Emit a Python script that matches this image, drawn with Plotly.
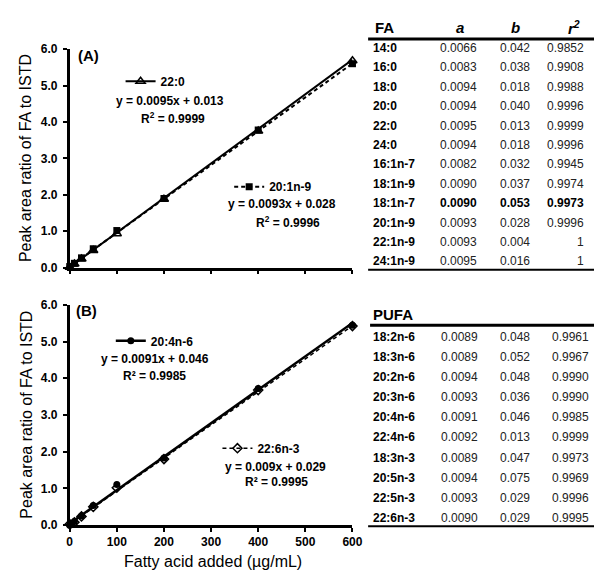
import plotly.graph_objects as go

W, H = 602, 574
FONT = "Arial, Liberation Sans, sans-serif"

# ---------------- data ----------------
conc = [0, 10, 25, 50, 100, 200, 400, 600]
fa_22_0 = [0.01, 0.10, 0.24, 0.47, 0.93, 1.88, 3.75, 5.68]
fa_20_1n9 = [0.03, 0.12, 0.27, 0.52, 1.02, 1.90, 3.78, 5.60]
fa_20_4n6 = [0.00, 0.10, 0.25, 0.54, 1.11, 1.83, 3.72, 5.44]
fa_22_6n3 = [0.03, 0.08, 0.24, 0.50, 1.02, 1.80, 3.68, 5.42]

# fitted lines shown in the chart (slope, intercept from the printed equations)
fit_22_0 = (0.0095, 0.013)
fit_20_1n9 = (0.0093, 0.028)
fit_20_4n6 = (0.0091, 0.046)
fit_22_6n3 = (0.009, 0.029)
fit_x = [0, 600]

x_ticks = [0, 100, 200, 300, 400, 500, 600]
y_ticks = [0, 1, 2, 3, 4, 5, 6]
y_tick_labels = ["0.0", "1.0", "2.0", "3.0", "4.0", "5.0", "6.0"]

sat_names = ["14:0", "16:0", "18:0", "20:0", "22:0", "24:0", "16:1n-7",
             "18:1n-9", "18:1n-7", "20:1n-9", "22:1n-9", "24:1n-9"]
sat_a = ["0.0066", "0.0083", "0.0094", "0.0094", "0.0095", "0.0094", "0.0082",
         "0.0090", "0.0090", "0.0093", "0.0093", "0.0095"]
sat_b = ["0.042", "0.038", "0.018", "0.040", "0.013", "0.018", "0.032",
         "0.037", "0.053", "0.028", "0.004", "0.016"]
sat_r2 = ["0.9852", "0.9908", "0.9988", "0.9996", "0.9999", "0.9996", "0.9945",
          "0.9974", "0.9973", "0.9996", "1", "1"]
sat_bold = "18:1n-7"

pufa_names = ["18:2n-6", "18:3n-6", "20:2n-6", "20:3n-6", "20:4n-6",
              "22:4n-6", "18:3n-3", "20:5n-3", "22:5n-3", "22:6n-3"]
pufa_a = ["0.0089", "0.0089", "0.0094", "0.0093", "0.0091", "0.0092",
          "0.0089", "0.0094", "0.0093", "0.0090"]
pufa_b = ["0.048", "0.052", "0.048", "0.036", "0.046", "0.013",
          "0.047", "0.075", "0.029", "0.029"]
pufa_r2 = ["0.9961", "0.9967", "0.9990", "0.9990", "0.9985", "0.9999",
           "0.9973", "0.9969", "0.9996", "0.9995"]


def px(x):
    return x / W


def py(y):
    return 1 - y / H


fig = go.Figure()


def add_series(name, yvals, fit, line, marker, xa, ya, legend):
    slope, icpt = fit
    # fitted regression line
    fig.add_trace(go.Scatter(x=fit_x, y=[slope * v + icpt for v in fit_x], mode="lines",
                             line=line, xaxis=xa, yaxis=ya, showlegend=False,
                             hoverinfo="skip", cliponaxis=False))
    # measured points
    fig.add_trace(go.Scatter(x=conc, y=yvals, mode="markers", marker=marker,
                             xaxis=xa, yaxis=ya, showlegend=False, name=name,
                             cliponaxis=False))
    # legend key
    fig.add_trace(go.Scatter(x=[None], y=[None], mode="lines+markers", name=name,
                             line=line, marker=marker, xaxis=xa, yaxis=ya,
                             legend=legend, showlegend=True))


add_series("22:0", fa_22_0, fit_22_0,
           dict(color="black", width=2),
           dict(symbol="triangle-up-open", size=8, color="black", line=dict(width=1.5)),
           "x", "y", "legend")
add_series("20:1n-9", fa_20_1n9, fit_20_1n9,
           dict(color="black", width=2, dash="4px,3px"),
           dict(symbol="square", size=7, color="black"),
           "x", "y", "legend2")
add_series("20:4n-6", fa_20_4n6, fit_20_4n6,
           dict(color="black", width=2.5),
           dict(symbol="circle", size=7, color="black"),
           "x2", "y2", "legend3")
add_series("22:6n-3", fa_22_6n3, fit_22_6n3,
           dict(color="black", width=1.5, dash="4px,3px"),
           dict(symbol="diamond-open", size=7, color="black", line=dict(width=1.5)),
           "x2", "y2", "legend4")

axis_common = dict(showline=True, linecolor="black", linewidth=2.5, showgrid=False,
                   zeroline=False, ticks="outside", ticklen=4, tickwidth=2,
                   tickcolor="black", fixedrange=True)
tickfont = dict(family=FONT, size=12, color="black", weight="bold")

xd = [px(60), px(349)]
fig.update_layout(
    xaxis=dict(domain=xd, range=[0, 600], tickvals=x_ticks, showticklabels=False,
               anchor="y", **axis_common),
    yaxis=dict(domain=[py(259), py(35)], range=[0, 6], tickvals=y_ticks,
               ticktext=y_tick_labels, tickfont=tickfont, anchor="x",
               ticklabelstandoff=3, **axis_common),
    xaxis2=dict(domain=xd, range=[0, 600], tickvals=x_ticks, tickfont=tickfont,
                anchor="y2", **axis_common),
    yaxis2=dict(domain=[py(523), py(297)], range=[0, 6], tickvals=y_ticks,
                ticktext=y_tick_labels, tickfont=tickfont, anchor="x2",
                ticklabelstandoff=3, **axis_common),
)

leg_common = dict(bgcolor="rgba(0,0,0,0)", borderwidth=0, xanchor="left",
                  yanchor="middle", font=dict(family=FONT, size=12, color="black",
                                              weight="bold"),
                  itemclick=False, itemdoubleclick=False)
fig.update_layout(
    showlegend=True,
    legend=dict(x=px(112), y=py(68), **leg_common),
    legend2=dict(x=px(223), y=py(176), **leg_common),
    legend3=dict(x=px(102), y=py(334), **leg_common),
    legend4=dict(x=px(211), y=py(444), **leg_common),
)

annotations = []


def txt(x, y, text, size=12, xanchor="center", bold=True, color="black",
        italic=False, angle=0):
    annotations.append(dict(x=px(x), y=py(y), xref="paper", yref="paper",
                            text=text, showarrow=False, xanchor=xanchor,
                            yanchor="middle", textangle=angle,
                            font=dict(family=FONT, size=size, color=color,
                                      weight="bold" if bold else "normal",
                                      style="italic" if italic else "normal")))


# panel labels and equations
txt(79, 42, "(A)", size=15)
txt(163, 88, "y = 0.0095x + 0.013")
txt(166, 106, "R<sup>2</sup> = 0.9999")
txt(277, 194, "y = 0.0093x + 0.028")
txt(283, 212, "R<sup>2</sup> = 0.9996")
txt(77, 303, "(B)", size=15)
txt(147, 353, "y = 0.0091x + 0.046")
txt(147, 370, "R² = 0.9985")
txt(270, 463, "y = 0.009x + 0.029")
txt(271, 479, "R² = 0.9995")

# axis titles
txt(15, 147, "Peak area ratio of FA to ISTD", size=16, bold=False, angle=-90)
txt(15, 410, "Peak area ratio of FA to ISTD", size=16, bold=False, angle=-90)
txt(206, 560, "Fatty acid added (µg/mL)", size=16, bold=False)

# table headers
txt(370, 13, "FA", size=15, xanchor="left")
txt(459, 13, "a", size=15, italic=True)
txt(516, 13, "b", size=15, italic=True)
txt(575, 13, "r<sup>2</sup>", size=15, italic=True)
txt(368, 307, "PUFA", size=15, xanchor="left")

VAL = "#222222"
for i, name in enumerate(sat_names):
    y = 33.7 + 19.9 * i
    b = name == sat_bold
    txt(368, y, name, xanchor="left")
    txt(478, y, sat_a[i], xanchor="right", bold=b, color="black" if b else VAL)
    txt(532, y, sat_b[i], xanchor="right", bold=b, color="black" if b else VAL)
    txt(588, y, sat_r2[i], xanchor="right", bold=b, color="black" if b else VAL)

for i, name in enumerate(pufa_names):
    y = 330 + 20.6 * i
    txt(368, y, name, xanchor="left")
    txt(479, y, pufa_a[i], xanchor="right", bold=False, color=VAL)
    txt(533, y, pufa_b[i], xanchor="right", bold=False, color=VAL)
    txt(593, y, pufa_r2[i], xanchor="right", bold=False, color=VAL)

shapes = []
for (x0, x1, y, w) in [(365, 597, 24.5, 3), (365, 597, 261, 2),
                       (367, 597, 318, 3), (365, 597, 524, 2)]:
    shapes.append(dict(type="line", xref="paper", yref="paper", x0=px(x0), x1=px(x1),
                       y0=py(y), y1=py(y), line=dict(color="black", width=w)))

fig.update_layout(width=W, height=H, margin=dict(l=0, r=0, t=0, b=0),
                  paper_bgcolor="white", plot_bgcolor="white",
                  annotations=annotations, shapes=shapes,
                  font=dict(family=FONT, color="black"))

fig.write_html("out.html", config=dict(displayModeBar=False))
